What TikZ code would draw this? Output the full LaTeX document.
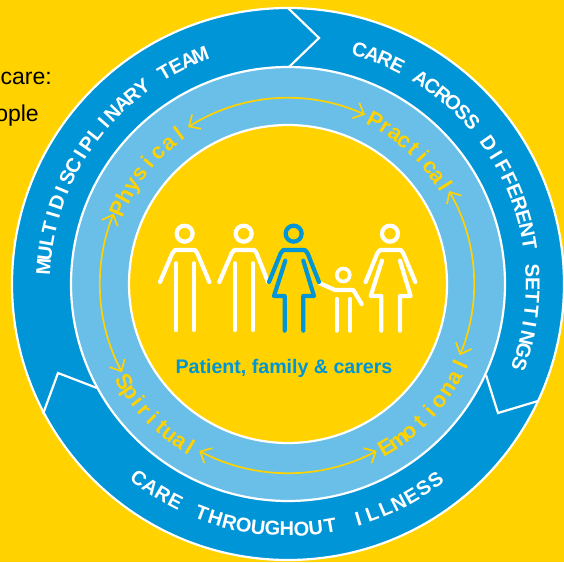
\documentclass[tikz,border=0pt]{standalone}
\usepackage{fontspec}
\setmainfont{Liberation Sans}
\usetikzlibrary{arrows.meta}
\definecolor{bgy}{HTML}{FFD200}
\definecolor{blueA}{HTML}{0095D6}
\definecolor{blueB}{HTML}{69BFE8}
\tikzset{
 ringline/.style={draw=white,line width=2.2pt},
 divider/.style={draw=white,line width=2.2pt,line join=miter},
 fig/.style={line width=4.2pt,line cap=round,line join=round,draw=white},
 figb/.style={fig,draw=blueA},
 headc/.style={line width=4.2pt,draw=white},
 cyc/.style={draw=bgy,line width=1.7pt,{Straight Barb[length=9pt,width=17pt,line width=1.7pt]}-{Straight Barb[length=9pt,width=17pt,line width=1.7pt]}},
 ch/.style={inner sep=0pt,anchor=base},
}
\newcommand{\wfont}{\color{white}\bfseries\fontsize{20}{20}\selectfont}
\newcommand{\yfont}{\color{bgy}\bfseries\fontsize{22}{22}\selectfont}
\newbox\rtbox
\newdimen\rtdim
\makeatletter
% measure one character of the text in font #1 into \rtw, as a plain number
\newcommand{\rtmeasure}[1]{%
 \setbox\rtbox=\hbox{#1\rtc}%
 \rtdim=\wd\rtbox
 \edef\rtw{\strip@pt\rtdim}}
% #1 start angle, #2 end angle, #3 radius, #4 font, #5 text (~ for a space)
\newcommand{\ringtext}[5]{%
 \pgfmathsetmacro\rtsign{(#2>#1)?1:-1}%
 \def\rttotal{0}\def\rtcount{0}%
 \@tfor\rtc:=#5\do{%
   \rtmeasure{#4}%
   \pgfmathsetmacro\rttotal{\rttotal+\rtw}%
   \pgfmathsetmacro\rtcount{\rtcount+1}}%
 \pgfmathsetmacro\rtspan{abs(#2-#1)*pi/180*#3}%
 \pgfmathsetmacro\rttrack{(\rtspan-\rttotal)/(\rtcount-1)}%
 \def\rtpos{0}%
 \@tfor\rtc:=#5\do{%
   \rtmeasure{#4}%
   \pgfmathsetmacro\rtang{#1+\rtsign*(\rtpos+\rtw/2)/#3*180/pi}%
   \pgfmathsetmacro\rtrot{\rtang+\rtsign*90}%
   \node[ch,rotate=\rtrot] at (\rtang:#3) {#4\rtc};%
   \pgfmathsetmacro\rtpos{\rtpos+\rtw+\rttrack}}%
}
\makeatother
\begin{document}
\begin{tikzpicture}[x=1pt,y=1pt]
\useasboundingbox (-288,-278) rectangle (276,284);
\fill[bgy] (-288,-278) rectangle (276,284);
% side text
\node[anchor=base east,inner sep=0pt,font=\fontsize{23}{23}\selectfont] (t1) at (-236,199) {care:};
\node[anchor=base east,inner sep=0pt,font=\fontsize{23}{23}\selectfont] (t2) at (-249,162) {ople};
% rings
\fill[blueA] (0,0) circle[radius=276];
\draw[ringline] (0,0) circle[radius=276];
\draw[divider] (0,276) -- (31,246) -- (1,217);
\draw[divider] (-245,-130) -- (-230,-89) -- (-191,-104);
\draw[divider] (198,-91) -- (210,-129) -- (250,-117);
\fill[blueB] (0,0) circle[radius=217];
\draw[ringline] (0,0) circle[radius=217];
\fill[bgy] (0,0) circle[radius=159];
\draw[ringline] (0,0) circle[radius=159];
% outer ring text
\ringtext{176}{111}{238}{\wfont}{MULTIDISCIPLINARY~TEAM}
\ringtext{73}{-19}{238}{\wfont}{CARE~ACROSS~DIFFERENT~SETTINGS}
\ringtext{-127.5}{-53}{252}{\wfont}{CARE~THROUGHOUT~ILLNESS}
% inner ring text
\ringtext{156}{126}{178}{\yfont}{Physical}
\ringtext{62}{32}{178}{\yfont}{Practical}
\ringtext{-149}{-121}{198}{\yfont}{Spiritual}
\ringtext{-59}{-25}{198}{\yfont}{Emotional}
% cycle arrows
\draw[cyc] (122.5:186) arc[start angle=122.5,end angle=65.5,radius=186];
\draw[cyc] (30:186) arc[start angle=30,end angle=-22.5,radius=186];
\draw[cyc] (-62:189) arc[start angle=-62,end angle=-118,radius=189];
\draw[cyc] (-152:188) arc[start angle=-152,end angle=-202,radius=188];
% figures, coordinates in a local frame
\begin{scope}[shift={(-148,84)},x=0.3333pt,y=-0.3333pt]
 \draw[headc] (134,101) circle[radius=8pt];
 \draw[fig] (60,246) -- (97,160) -- (105,150) -- (165,150) -- (172,160) -- (208,246);
 \draw[fig] (108,190) -- (108,390);
 \draw[fig] (162,190) -- (162,390);
 \draw[headc] (311,101) circle[radius=8pt];
 \draw[fig] (238,246) -- (275,160) -- (283,150) -- (343,150) -- (350,160) -- (384,246);
 \draw[fig] (285,190) -- (285,390);
 \draw[fig] (339,190) -- (339,390);
 \draw[fig] (540,250) -- (585,270) -- (640,270) -- (665,312);
 \draw[headc,line width=3.6pt] (610,225) circle[radius=6.5pt];
 \draw[fig] (590,297) -- (590,392);
 \draw[fig] (630,297) -- (630,392);
 \draw[headc,draw=blueA] (461,101) circle[radius=8pt];
 \draw[figb] (387,246) -- (422,160) -- (430,150) -- (495,150) -- (503,160) -- (537,246);
 \draw[figb] (436,182) -- (402,288) -- (434,288) -- (434,392);
 \draw[figb] (490,182) -- (522,288) -- (490,288) -- (490,392);
 \draw[headc] (750,101) circle[radius=8pt];
 \draw[fig] (677,246) -- (712,160) -- (720,150) -- (783,150) -- (790,160) -- (826,246);
 \draw[fig] (726,182) -- (692,288) -- (724,288) -- (724,392);
 \draw[fig] (780,182) -- (812,288) -- (780,288) -- (780,392);
\end{scope}
\node[text=blueA,inner sep=0pt,font=\bfseries\fontsize{19.6}{19.6}\selectfont] (cap) at (-4,-84) {Patient, family \& carers};
\end{tikzpicture}
\end{document}
